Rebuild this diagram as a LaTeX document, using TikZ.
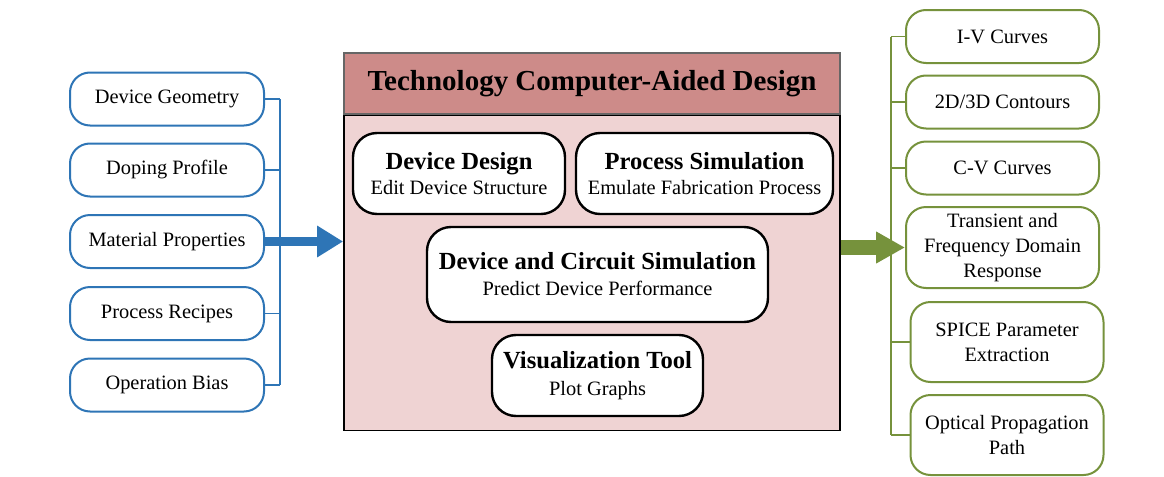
\documentclass[tikz,border=0pt]{standalone}
\usepackage{fontspec}
\setmainfont{Liberation Serif}
\usetikzlibrary{arrows.meta,calc,positioning}

\definecolor{tcadblue}{RGB}{46,117,182}
\definecolor{tcadgreen}{RGB}{118,146,60}
\definecolor{titlepink}{RGB}{205,139,137}
\definecolor{bodypink}{RGB}{239,211,211}
\newcommand{\tcadhead}{\fontsize{12.3}{14}\selectfont\bfseries}

\begin{document}
\begin{tikzpicture}[x=0.5pt,y=-0.5pt,
  inbox/.style={draw=tcadblue,line width=1pt,rounded corners=10pt,fill=white,
    minimum width=97pt,minimum height=26.5pt,inner sep=1pt,
    font=\fontsize{10.2}{12.5}\selectfont},
  outbox/.style={draw=tcadgreen,line width=1pt,rounded corners=10pt,fill=white,
    minimum width=96.5pt,minimum height=26.5pt,inner sep=1pt,align=center,
    font=\fontsize{10.2}{12.5}\selectfont},
  toolbox/.style={draw=black,line width=1.2pt,rounded corners=12pt,fill=white,
    minimum height=40.5pt,inner sep=1pt,align=center,
    font=\fontsize{10.2}{12}\selectfont},
  inbus/.style={draw=tcadblue,line width=0.8pt},
  outbus/.style={draw=tcadgreen,line width=0.8pt}]

\useasboundingbox (0,0) rectangle (1164,477);

% input parameters
\foreach \name/\txt/\y in {geom/Device Geometry/99,doping/Doping Profile/170,
    matl/Material Properties/241.5,recipe/Process Recipes/313.5,bias/Operation Bias/385}
  \node[inbox] (\name) at (167,\y) {\txt};

\coordinate (lbus) at (280,0);
\foreach \name in {geom,doping,matl,recipe,bias}
  \draw[inbus] (\name.east) -- (\name.east -| lbus);
\draw[inbus] (geom.east -| lbus) -- (bias.east -| lbus);

% TCAD frame
\node[draw=gray!80!black,line width=0.6pt,fill=titlepink,minimum width=248pt,
  minimum height=30.5pt,inner sep=0pt,font=\fontsize{14.5}{16}\selectfont\bfseries]
  (tcadtitle) at (592,83.5) {\raisebox{-2pt}{Technology Computer-Aided Design}};
\node[draw=black,line width=0.9pt,fill=bodypink,minimum width=248pt,
  minimum height=157.5pt,inner sep=0pt,below=0pt of tcadtitle] (tcadbody) {};

\node[toolbox,minimum width=106pt] (design) at (459,173.5)
  {{\tcadhead Device Design}\\[0.5pt] Edit Device Structure};
\node[toolbox,minimum width=128.5pt] (process) at (704.5,173.5)
  {{\tcadhead Process Simulation}\\[0.5pt] Emulate Fabrication Process};
\node[toolbox,minimum width=170.5pt,minimum height=47.5pt] (circuit) at (597.5,274.5)
  {{\tcadhead Device and Circuit Simulation}\\[1pt] Predict Device Performance};
\node[toolbox,minimum width=105.5pt] (visual) at (597.5,375.5)
  {{\tcadhead Visualization Tool}\\[1.5pt] Plot Graphs};

% outputs
\node[outbox] (iv) at (1002.5,36.5) {I-V Curves};
\node[outbox] (contour) at (1002.5,102) {2D/3D Contours};
\node[outbox] (cv) at (1002.5,168) {C-V Curves};
\node[outbox,minimum height=40.5pt] (transient) at (1002.5,247.5)
  {Transient and\\Frequency Domain\\Response};
\node[outbox,minimum height=40pt] (spice) at (1007,342) {SPICE Parameter\\Extraction};
\node[outbox,minimum height=40pt] (optical) at (1007,435) {Optical Propagation\\Path};

\coordinate (rbus) at (891,0);
\foreach \name in {iv,contour,cv,spice,optical}
  \draw[outbus] (\name.west) -- (\name.west -| rbus);
\draw[outbus] (iv.west -| rbus) -- (optical.west -| rbus);

% flow arrows
\draw[tcadblue,line width=4.5pt,-{Triangle[length=13pt,width=15pt]}]
  (matl.east) -- (tcadbody.west |- matl.east);
\draw[tcadgreen,line width=7.5pt,-{Triangle[length=14.5pt,width=15pt]}]
  (tcadbody.east |- transient.west) -- (transient.west);
\end{tikzpicture}
\end{document}
